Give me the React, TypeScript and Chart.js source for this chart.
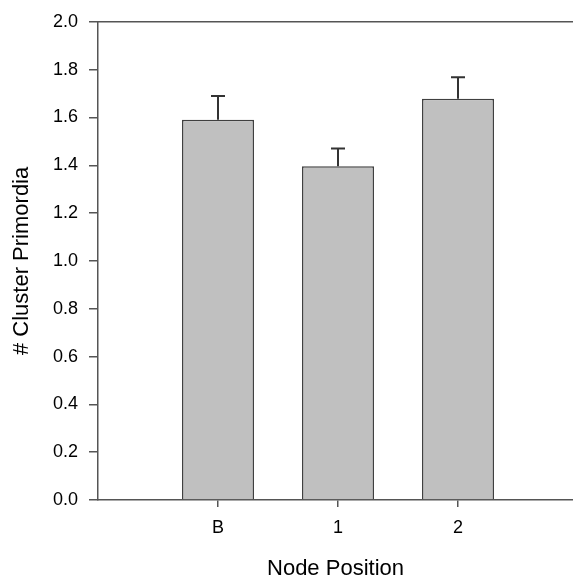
import React, { useEffect, useRef } from "react";
import { Chart, registerables } from "chart.js";

Chart.register(...registerables);

const categories = ["B", "1", "2"];
const positions = [1, 2, 3];
const meanValues = [1.59, 1.396, 1.678];
const errorValues = [0.1, 0.074, 0.09];
const yTicks = [0, 0.2, 0.4, 0.6, 0.8, 1.0, 1.2, 1.4, 1.6, 1.8, 2.0];

const AXIS_COLOR = "#555555";
const FONT = "'Liberation Sans', Arial, sans-serif";

const errorBarPlugin = {
  id: "errorBars",
  afterDatasetsDraw(chart: any) {
    const { ctx } = chart;
    const xs = chart.scales.x;
    const ys = chart.scales.y;
    ctx.save();
    ctx.strokeStyle = "#333333";
    ctx.lineWidth = 2;
    meanValues.forEach((v, i) => {
      const x = xs.getPixelForValue(positions[i]);
      const y0 = ys.getPixelForValue(v);
      const y1 = ys.getPixelForValue(v + errorValues[i]);
      ctx.beginPath();
      ctx.moveTo(x, y0);
      ctx.lineTo(x, y1);
      ctx.moveTo(x - 7, y1);
      ctx.lineTo(x + 7, y1);
      ctx.stroke();
    });
    ctx.restore();
  },
};

const topLinePlugin = {
  id: "topLine",
  afterDraw(chart: any) {
    const { ctx, chartArea } = chart;
    ctx.save();
    ctx.strokeStyle = AXIS_COLOR;
    ctx.lineWidth = 1.5;
    ctx.beginPath();
    ctx.moveTo(chartArea.left, chartArea.top);
    ctx.lineTo(chart.width, chartArea.top);
    ctx.stroke();
    ctx.restore();
  },
};

export default function App() {
  const ref = useRef<HTMLCanvasElement>(null);
  useEffect(() => {
    if (!ref.current) return;
    const chart = new Chart(ref.current, {
      type: "bar",
      data: {
        datasets: [
          {
            data: positions.map((p, i) => ({ x: p, y: meanValues[i] })),
            backgroundColor: "#c0c0c0",
            borderColor: "#404040",
            borderWidth: 1.5,
            categoryPercentage: 1,
            barPercentage: 0.6,
          },
        ],
      },
      options: {
        responsive: false,
        animation: false,
        layout: { padding: { top: 21, left: 0, right: 0, bottom: 0 } },
        plugins: { legend: { display: false }, tooltip: { enabled: false } },
        scales: {
          x: {
            type: "linear",
            min: 0,
            max: 475 / 120,
            offset: false,
            afterBuildTicks: (scale: any) => {
              scale.ticks = positions.map((v) => ({ value: v }));
            },
            afterFit: (scale: any) => {
              scale.height = 82;
            },
            ticks: {
              callback: (v: any) => categories[positions.indexOf(v)] ?? "",
              color: "#000",
              font: { family: FONT, size: 18 },
              padding: 10,
              maxRotation: 0,
              autoSkip: false,
            },
            grid: {
              offset: false,
              drawOnChartArea: false,
              drawTicks: true,
              tickLength: 7,
              color: AXIS_COLOR,
              lineWidth: 1.5,
            },
            border: { display: true, color: AXIS_COLOR, width: 1.5 },
            title: {
              display: true,
              text: "Node Position",
              color: "#000",
              font: { family: FONT, size: 22 },
              padding: { top: 0, bottom: 0 },
            },
          },
          y: {
            min: 0,
            max: 2,
            afterBuildTicks: (scale: any) => {
              scale.ticks = yTicks.map((v) => ({ value: v }));
            },
            afterFit: (scale: any) => {
              scale.width = 98;
            },
            ticks: {
              callback: (v: any) => Number(v).toFixed(1),
              color: "#000",
              font: { family: FONT, size: 18 },
              padding: 11,
            },
            grid: {
              drawOnChartArea: false,
              drawTicks: true,
              tickLength: 9,
              color: AXIS_COLOR,
              lineWidth: 1.5,
            },
            border: { display: true, color: AXIS_COLOR, width: 1.5 },
            title: {
              display: true,
              text: "# Cluster Primordia",
              color: "#000",
              font: { family: FONT, size: 22 },
              padding: { top: 9, bottom: 0 },
            },
          },
        },
      },
      plugins: [errorBarPlugin, topLinePlugin],
    } as any);
    return () => chart.destroy();
  }, []);
  return (
    <div style={{ position: "fixed", left: 0, top: 0, width: 573, height: 582, background: "#fff" }}>
      <canvas ref={ref} width={573} height={582} style={{ display: "block" }} />
    </div>
  );
}
